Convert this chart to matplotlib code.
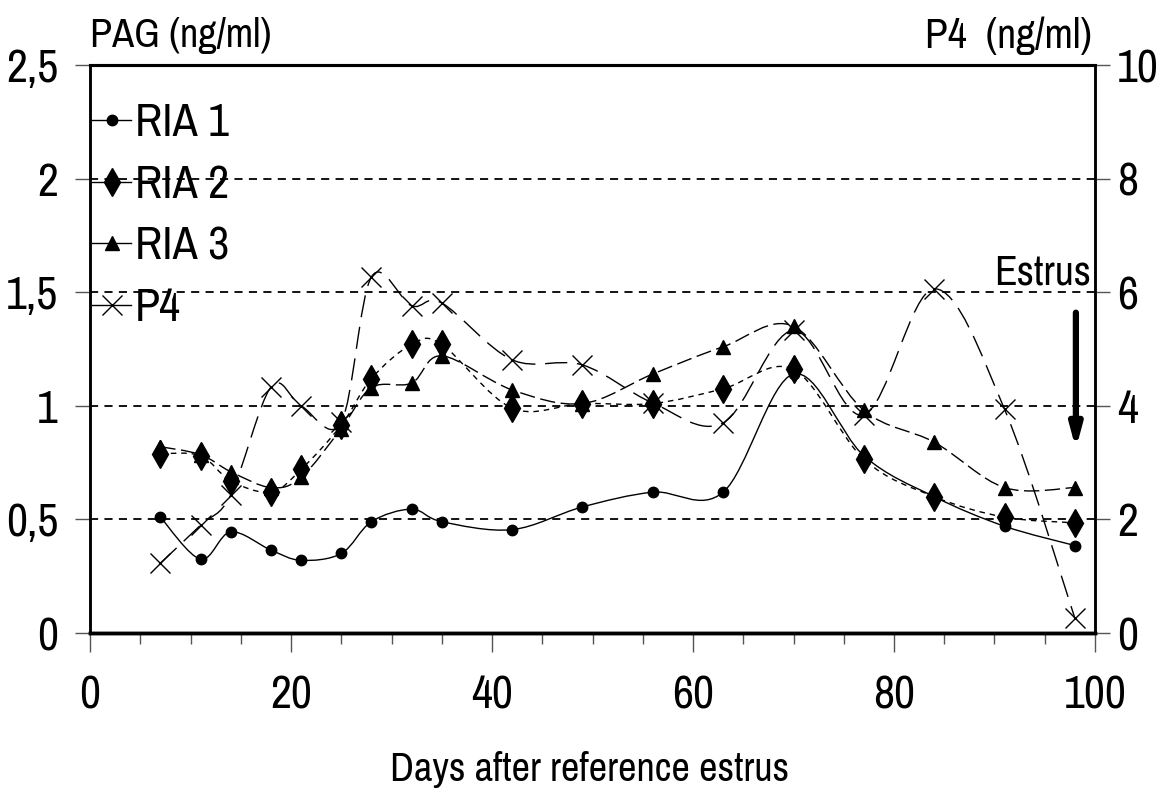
import matplotlib
matplotlib.use("Agg")
import matplotlib.pyplot as plt
import numpy as np
from matplotlib.path import Path
from matplotlib.patches import PathPatch
from matplotlib.lines import Line2D
from matplotlib.ticker import MultipleLocator, FuncFormatter

plt.rcParams["font.family"] = ["Archivo Narrow", "Liberation Sans", "DejaVu Sans"]

days = [7, 11, 14, 18, 21, 25, 28, 32, 35, 42, 49, 56, 63, 70, 77, 84, 91, 98]
ria1 = [0.51, 0.325, 0.445, 0.365, 0.32, 0.35, 0.49, 0.545, 0.49,
        0.455, 0.555, 0.62, 0.62, 1.14, 0.78, 0.60, 0.47, 0.385]
ria2 = [0.79, 0.78, 0.67, 0.62, 0.72, 0.915, 1.12, 1.27, 1.27,
        0.99, 1.01, 1.01, 1.075, 1.16, 0.765, 0.60, 0.51, 0.485]
ria3 = [0.82, 0.785, 0.71, 0.64, 0.685, 0.90, 1.08, 1.10, 1.22,
        1.07, 1.01, 1.14, 1.26, 1.35, 0.98, 0.84, 0.64, 0.64]
p4 = [1.23, 1.9, 2.43, 4.33, 4.0, 3.71, 6.27, 5.76, 5.81,
      4.81, 4.72, 4.05, 3.70, 5.33, 3.84, 6.06, 3.94, 0.26]

FS = 33


def smooth_path(x, y, sx, sy):
    """Catmull-Rom style bezier through the points (scaled so curvature
    is computed in screen proportions)."""
    p = np.column_stack([np.asarray(x) * sx, np.asarray(y) * sy])
    verts = [p[0]]
    codes = [Path.MOVETO]
    n = len(p)
    for i in range(n - 1):
        p0 = p[i - 1] if i > 0 else p[i]
        p1, p2 = p[i], p[i + 1]
        p3 = p[i + 2] if i + 2 < n else p[i + 1]
        c1 = p1 + (p2 - p0) / 6.0
        c2 = p2 - (p3 - p1) / 6.0
        verts += [c1, c2, p2]
        codes += [Path.CURVE4] * 3
    v = np.array(verts)
    v[:, 0] /= sx
    v[:, 1] /= sy
    return Path(v, codes)


fig = plt.figure(figsize=(11.65, 7.89), dpi=100)
ax = fig.add_axes([0.0773, 0.1977, 0.8626, 0.7199])
ax2 = ax.twinx()

ax.set_xlim(0, 100)
ax.set_ylim(0, 2.5)
ax2.set_ylim(0, 10)

# dashed horizontal grid on the PAG scale
for gy in [0.5, 1.0, 1.5, 2.0]:
    ax.axhline(gy, color="black", lw=1.3, ls=(0, (4.5, 3.5)), zorder=1)

sx, sy = 1005 / 100, 568 / 2.5
styles = [
    (ria1, "o", 7.5, (0, ()), "RIA 1"),
    (ria2, "d", 14, (0, (4, 3.5)), "RIA 2"),
    (ria3, "^", 10.5, (0, (11, 4)), "RIA 3"),
]
handles = []
for vals, mk, ms, ls, lab in styles:
    ax.add_patch(PathPatch(smooth_path(days, vals, sx, sy), fill=False,
                           lw=1.0, ls=ls, ec="black", zorder=3))
    ax.plot(days, vals, ls="none", marker=mk, ms=ms, color="black", zorder=4)
    handles.append(Line2D([], [], color="black", lw=1.0, marker=mk, ms=ms,
                          label=lab))

# progesterone on the right-hand scale
ax2.add_patch(PathPatch(smooth_path(days, p4, sx, sy / 4), fill=False,
                        lw=1.0, ls=(0, (16, 7)), ec="black", zorder=3))
ax2.plot(days, p4, ls="none", marker="x", ms=14, mew=1.0, color="black",
         zorder=4)
handles.append(Line2D([], [], color="black", lw=1.0, marker="x", ms=14,
                      mew=1.0, label="P4"))

leg = ax2.legend(handles=handles, loc="upper left",
                 bbox_to_anchor=(0.002, 0.935), frameon=False, fontsize=FS,
                 handlelength=0.85, handletextpad=0.08, labelspacing=0.43,
                 borderaxespad=0.0, borderpad=0.0)

# estrus marker
ax.annotate("", xy=(98.1, 0.81), xytext=(98.1, 1.41),
            arrowprops=dict(arrowstyle="-|>,head_length=1.3,head_width=0.35",
                            lw=4.5, color="black", shrinkA=0, shrinkB=0))
ax.text(99.6, 1.585, "Estrus", ha="right", va="center", fontsize=FS - 3)

comma = FuncFormatter(lambda v, _: f"{v:g}".replace(".", ","))
ax.yaxis.set_major_locator(MultipleLocator(0.5))
ax.yaxis.set_major_formatter(comma)
ax2.yaxis.set_major_locator(MultipleLocator(2))
ax.xaxis.set_major_locator(MultipleLocator(20))
ax.xaxis.set_minor_locator(MultipleLocator(5))

ax.tick_params(axis="x", which="major", length=14, width=1.0, pad=16,
               labelsize=FS, color="#555555")
ax.tick_params(axis="x", which="minor", length=8, width=1.0, color="#555555")
ax.tick_params(axis="y", length=11, width=1.0, pad=12, labelsize=FS,
               color="#555555")
ax2.tick_params(axis="y", length=11, width=1.0, pad=5, labelsize=FS,
                color="#555555")

for a in (ax, ax2):
    a.spines["top"].set_linewidth(2.2)
    a.spines["bottom"].set_linewidth(2.5)
    a.spines["left"].set_linewidth(1.8)
    a.spines["right"].set_linewidth(1.8)

fig.text(0.0773, 0.955, "PAG (ng/ml)", ha="left", va="center", fontsize=FS - 4)
fig.text(0.937, 0.955, "P4  (ng/ml)", ha="right", va="center", fontsize=FS - 3)
fig.text(0.506, 0.025, "Days after reference estrus", ha="center",
         va="center", fontsize=FS - 4)

fig.savefig("out.png", dpi=100)
